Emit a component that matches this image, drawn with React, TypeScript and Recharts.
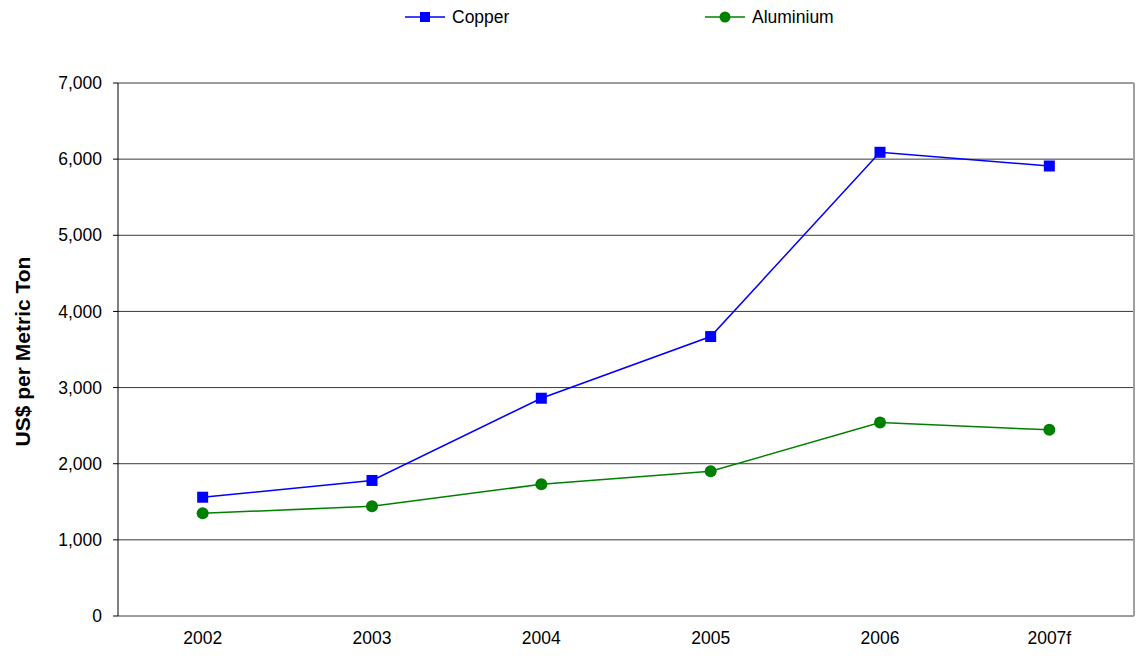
import React from 'react';
import {
  LineChart, Line, XAxis, YAxis, CartesianGrid, ReferenceLine, Label
} from 'recharts';

// Metal prices, US$ per metric ton
const years = ['2002', '2003', '2004', '2005', '2006', '2007f'];
const copper = [1560, 1780, 2860, 3670, 6090, 5910];
const aluminium = [1350, 1440, 1730, 1900, 2540, 2445];
const yTicks = [0, 1000, 2000, 3000, 4000, 5000, 6000, 7000];

const W = 1137;
const H = 656;
const FONT = '"Liberation Sans", Arial, sans-serif';
const BLUE = '#0000FF';
const GREEN = '#008000';

// each year sits in the middle of its own band, so the tick marks fall on the band edges
const data = years.map((year, i) => ({
  year,
  pos: i + 0.5,
  copper: copper[i],
  aluminium: aluminium[i],
}));
const edgeTicks = years.map((_, i) => i).concat(years.length);
const midTicks = years.map((_, i) => i + 0.5);

const SquareDot = (props: any) => {
  const { cx, cy, index } = props;
  if (cx == null || cy == null) return null;
  return <rect key={`sq-${index}`} x={cx - 5.5} y={cy - 5.5} width={11} height={11} fill={BLUE} />;
};

const LegendItem = ({ left, color, square, text }: { left: number; color: string; square: boolean; text: string }) => (
  <div style={{ position: 'absolute', left, top: 7, display: 'flex', alignItems: 'center', height: 20 }}>
    <svg width={40} height={14}>
      <line x1={0} y1={7} x2={40} y2={7} stroke={color} strokeWidth={1.5} />
      {square
        ? <rect x={15} y={2} width={10} height={10} fill={color} />
        : <circle cx={20} cy={7} r={5.5} fill={color} />}
    </svg>
    <span style={{ marginLeft: 7, fontSize: 17.5, color: '#000' }}>{text}</span>
  </div>
);

const YTitle = (props: any) => {
  const vb = props.viewBox || {};
  const cy = vb.y + vb.height / 2 + 2;
  const cx = 22;
  return (
    <text
      x={cx}
      y={cy}
      transform={`rotate(-90, ${cx}, ${cy})`}
      textAnchor="middle"
      dominantBaseline="central"
      fontSize={21}
      fontWeight="bold"
      fill="#000"
      fontFamily={FONT}
    >
      US$ per Metric Ton
    </text>
  );
};

export default function App() {
  return (
    <div style={{ position: 'absolute', left: 0, top: 0, width: W, height: H, background: '#fff', fontFamily: FONT }}>
      <LegendItem left={405} color={BLUE} square text="Copper" />
      <LegendItem left={705} color={GREEN} square={false} text="Aluminium" />
      <LineChart width={W} height={H} data={data} margin={{ top: 83, right: 3, bottom: 0, left: 1 }}>
        <CartesianGrid vertical={false} stroke="#3a3a3a" strokeWidth={1} />
        <XAxis
          xAxisId="edges"
          type="number"
          dataKey="pos"
          domain={[0, years.length]}
          ticks={edgeTicks}
          tickFormatter={() => ''}
          height={0}
          tickSize={6}
          axisLine={{ stroke: '#000', strokeWidth: 1 }}
          tickLine={{ stroke: '#000' }}
        />
        <XAxis
          xAxisId="labels"
          type="number"
          dataKey="pos"
          domain={[0, years.length]}
          ticks={midTicks}
          tickFormatter={(v: number) => years[Math.floor(v)]}
          height={40}
          axisLine={false}
          tickLine={false}
          tickMargin={10}
          tick={{ fill: '#000', fontSize: 17.5, fontFamily: FONT }}
        />
        <YAxis
          type="number"
          domain={[0, 7000]}
          ticks={yTicks}
          width={117}
          tickSize={5}
          tickMargin={11}
          tickFormatter={(v: number) => v.toLocaleString('en-US')}
          axisLine={{ stroke: '#000', strokeWidth: 1 }}
          tickLine={{ stroke: '#000' }}
          tick={{ fill: '#000', fontSize: 17.5, fontFamily: FONT }}
        >
          <Label content={<YTitle />} />
        </YAxis>
        <ReferenceLine xAxisId="edges" x={years.length} stroke="#a0a0a0" strokeWidth={2} />
        <Line
          xAxisId="edges"
          type="linear"
          dataKey="copper"
          name="Copper"
          stroke={BLUE}
          strokeWidth={1.5}
          dot={SquareDot}
          activeDot={false}
          isAnimationActive={false}
        />
        <Line
          xAxisId="edges"
          type="linear"
          dataKey="aluminium"
          name="Aluminium"
          stroke={GREEN}
          strokeWidth={1.5}
          dot={{ r: 6, fill: GREEN, stroke: GREEN, strokeWidth: 0 }}
          activeDot={false}
          isAnimationActive={false}
        />
      </LineChart>
    </div>
  );
}
